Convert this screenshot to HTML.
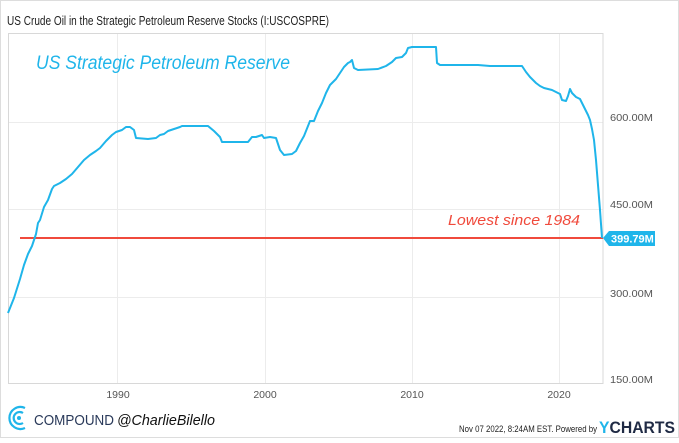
<!DOCTYPE html><html><head><style>
body{margin:0;width:679px;height:438px;background:#fff;font-family:"Liberation Sans",sans-serif;overflow:hidden}
</style></head><body>
<svg width="679" height="438" xmlns="http://www.w3.org/2000/svg" font-family="Liberation Sans, sans-serif">
<rect x="0.5" y="0.5" width="678" height="437" fill="#fff" stroke="#ddd"/>
<text x="7" y="25" font-size="13" fill="#222" textLength="322" lengthAdjust="spacingAndGlyphs">US Crude Oil in the Strategic Petroleum Reserve Stocks (I:USCOSPRE)</text>
<g stroke="#ececec" stroke-width="1">
<line x1="117.5" y1="33" x2="117.5" y2="383"/><line x1="265.5" y1="33" x2="265.5" y2="383"/>
<line x1="412.5" y1="33" x2="412.5" y2="383"/><line x1="559.5" y1="33" x2="559.5" y2="383"/>
<line x1="8" y1="122.5" x2="603" y2="122.5"/><line x1="8" y1="209.5" x2="603" y2="209.5"/><line x1="8" y1="297.5" x2="603" y2="297.5"/>
</g>
<rect x="8.5" y="33.5" width="594.5" height="350" fill="none" stroke="#d8d8d8"/>
<g font-size="10.5" fill="#555">
<text x="610" y="121" textLength="43" lengthAdjust="spacingAndGlyphs">600.00M</text><text x="610" y="208" textLength="43" lengthAdjust="spacingAndGlyphs">450.00M</text><text x="610" y="297" textLength="43" lengthAdjust="spacingAndGlyphs">300.00M</text><text x="610" y="383" textLength="43" lengthAdjust="spacingAndGlyphs">150.00M</text>
<text x="118" y="398" text-anchor="middle">1990</text><text x="265" y="398" text-anchor="middle">2000</text>
<text x="412" y="398" text-anchor="middle">2010</text><text x="559" y="398" text-anchor="middle">2020</text>
</g>
<text x="36" y="69" font-size="19" fill="#1fb5ea" font-style="italic" textLength="254" lengthAdjust="spacingAndGlyphs">US Strategic Petroleum Reserve</text>
<line x1="20" y1="238" x2="603" y2="238" stroke="#f04a3c" stroke-width="2"/>
<text x="448" y="225" font-size="15" fill="#f04a3c" font-style="italic" textLength="132" lengthAdjust="spacingAndGlyphs">Lowest since 1984</text>
<polyline fill="none" stroke="#1fb5ea" stroke-width="2" stroke-linejoin="round" points="8,313 14,298 20,279 24,265 28,254 32,246 36,234 38,223 40,220 44,207 48,200 52,189 54,186 60,183 66,179 72,174 78,167 84,160 90,155 96,151 100,148 106,141 112,135 116,132 122,130 126,127 130,127 134,130 136,138 148,139 156,138 160,135 164,134 168,131 174,129 180,127 182,126 208,126 214,131 220,137 222,142 248,142 252,137 256,137 262,135 264,138 270,137 276,138 280,150 284,155 292,154 296,151 300,143 304,136 310,121 314,121 318,111 322,103 326,93 330,85 336,79 340,73 344,67 348,63 350,62 352,60 354,68 358,70 378,69 386,66 392,62 396,58 402,57 406,53 408,48 412,47 436,47 437,63 440,65 478,65 490,66 522,66 526,72 530,77 536,83 540,86 544,88 552,90 560,94 562,100 566,101 568,96 570,89 572,93 576,97 580,99 584,107 588,115 590,120 592,129 594,140 596,160 598,185 600,210 602,238"/>
<path d="M603,238 L609,231 H655 V246 H609 Z" fill="#1fb5ea"/>
<text x="611" y="242.5" font-size="11" font-weight="bold" fill="#fff">399.79M</text>
<g fill="none" stroke="#1fb5ea" stroke-width="2.2">
<path d="M25,408 A11,11 0 1 0 25,428"/><path d="M23,413 A6,6 0 1 0 23,423"/>
</g>
<circle cx="19" cy="418" r="2" fill="#1fb5ea"/>
<text x="34" y="425" font-size="15" fill="#2a3a5a" textLength="80" lengthAdjust="spacingAndGlyphs">COMPOUND</text>
<text x="117" y="425" font-size="15" fill="#111" font-style="italic" textLength="98" lengthAdjust="spacingAndGlyphs">@CharlieBilello</text>
<text x="459" y="432" font-size="9.5" fill="#222" textLength="138" lengthAdjust="spacingAndGlyphs">Nov 07 2022, 8:24AM EST.  Powered by</text>
<text x="599" y="433" font-size="17" font-weight="bold" fill="#1f2a44" textLength="76" lengthAdjust="spacingAndGlyphs"><tspan fill="#1fb5ea">Y</tspan>CHARTS</text>
</svg>
</body></html>
